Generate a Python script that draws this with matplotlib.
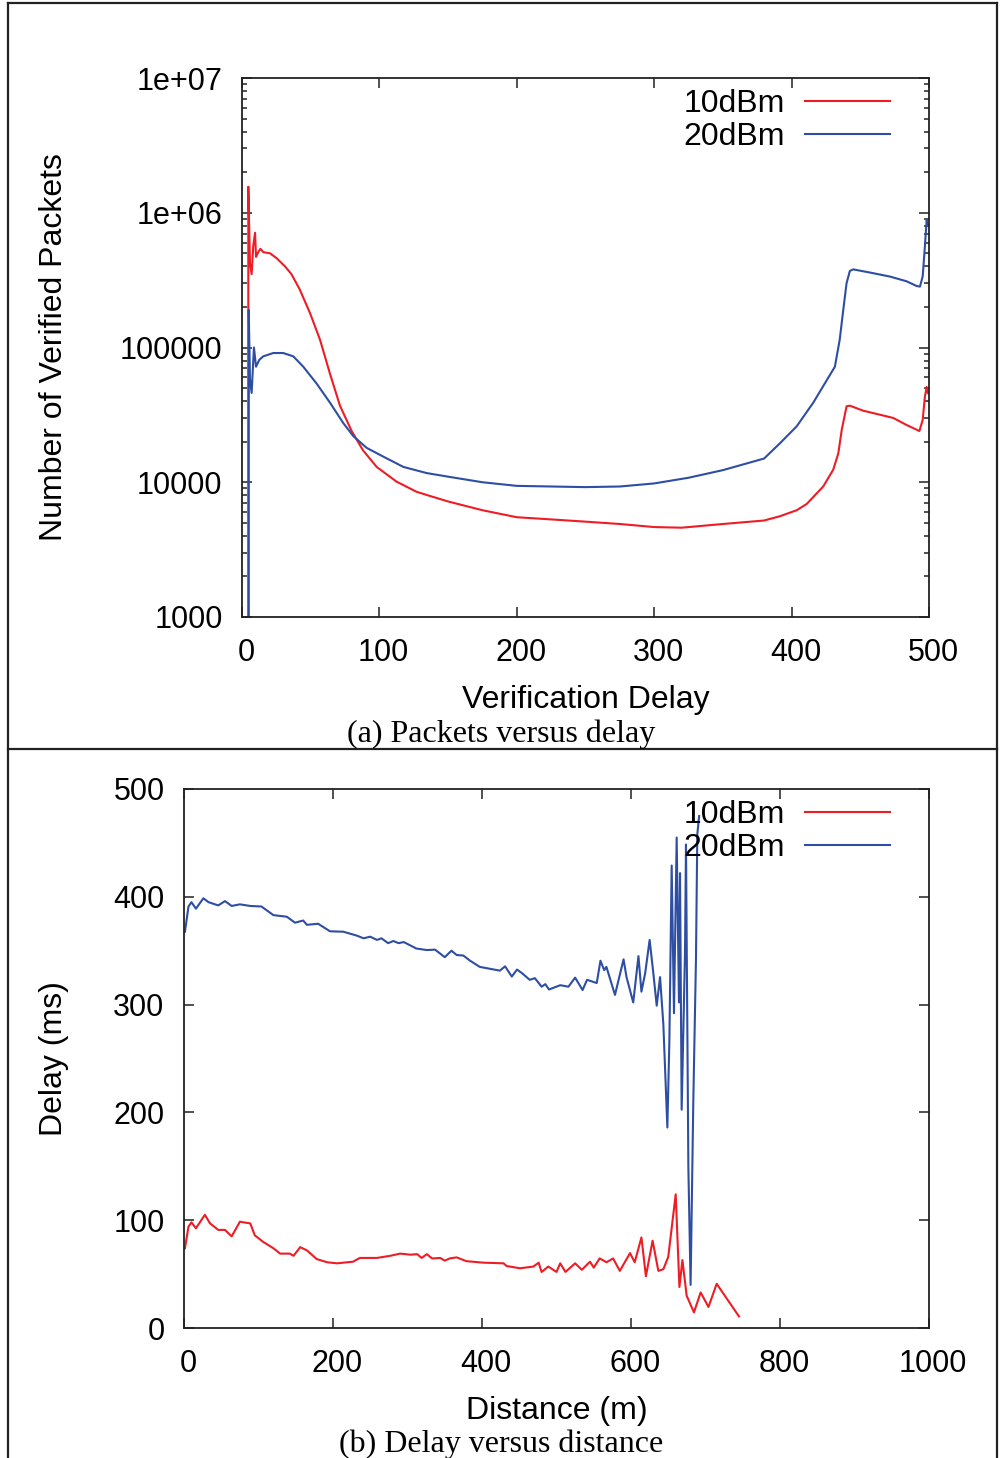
import numpy as np
import matplotlib
matplotlib.use('Agg')
import matplotlib.pyplot as plt
import matplotlib.transforms as mtransforms
from matplotlib.lines import Line2D

plt.rcParams['font.family'] = ['Liberation Sans', 'DejaVu Sans']

RED = '#ee1c25'
BLUE = '#2e4ea3'

# ---- (a) packets versus delay ----
delay_10 = [4.6, 4.6, 5.8, 7.0, 8.2, 9.5, 10.2, 11.8, 13.4, 15.5, 20.4, 25.2, 31.3, 36, 42,
            49.5, 56.8, 64, 71.3, 79.8, 88, 98, 112.5, 127, 137, 150, 175, 200, 225, 250,
            275, 300, 320, 350, 380, 391.6, 403.7, 411, 423, 430.3, 434, 436.5, 440, 442.4,
            452, 464.3, 474, 483.7, 493, 495.4, 497, 498.3, 499.2]
pkts_10 = [1, 1.56e6, 4.2e5, 3.5e5, 5.7e5, 7.1e5, 4.7e5, 5.1e5, 5.4e5, 5.1e5, 5.0e5, 4.6e5, 4.0e5,
           3.5e5, 2.7e5, 1.8e5, 1.14e5, 6.4e4, 3.7e4, 2.4e4, 1.73e4, 1.3e4, 1.01e4, 8.5e3,
           7.9e3, 7.2e3, 6.2e3, 5.5e3, 5.3e3, 5.1e3, 4.9e3, 4.65e3, 4.6e3, 4.9e3, 5.2e3, 5.6e3,
           6.2e3, 6.9e3, 9.3e3, 1.24e4, 1.64e4, 2.45e4, 3.66e4, 3.7e4, 3.4e4, 3.17e4, 3.0e4,
           2.66e4, 2.4e4, 2.9e4, 4.3e4, 5.1e4, 4.6e4]

delay_20 = [4.9, 4.9, 5.8, 7.0, 8.7, 10.2, 12.6, 15.5, 22.8, 30, 37.3, 44.6, 54.3, 64, 73.7, 81,
            90.7, 102.8, 117.4, 134.4, 150, 175, 200, 225, 250, 275, 300, 325, 350, 380,
            391.6, 403.7, 415.8, 425.5, 431.5, 435, 437.6, 440, 442.4, 444.8, 457, 471.6,
            483.7, 491, 493.4, 495.4, 497, 498.3, 499.2]
pkts_20 = [1, 1.9e5, 5.8e4, 4.6e4, 1.0e5, 7.2e4, 8.1e4, 8.6e4, 9.1e4, 9.1e4, 8.6e4, 7.2e4, 5.4e4,
           3.9e4, 2.75e4, 2.2e4, 1.8e4, 1.55e4, 1.3e4, 1.17e4, 1.1e4, 1.0e4, 9.4e3, 9.3e3,
           9.2e3, 9.3e3, 9.8e3, 1.08e4, 1.23e4, 1.5e4, 1.95e4, 2.6e4, 3.9e4, 5.7e4, 7.2e4,
           1.14e5, 1.9e5, 3.0e5, 3.7e5, 3.8e5, 3.6e5, 3.36e5, 3.1e5, 2.86e5, 2.83e5, 3.36e5,
           5.6e5, 8.8e5, 8.0e5]

# ---- (b) delay versus distance ----
dist_10 = [1.3, 6, 10, 16, 28, 35, 46, 55, 64, 75, 89, 95, 106, 120, 129, 142, 147, 156, 165,
           178, 192, 205, 227, 236, 259, 277, 290, 304, 313, 319, 326, 333, 344, 350, 357,
           366, 379, 402, 429, 433, 451, 469, 476, 480, 489, 500, 505, 512, 525, 534, 545,
           550, 558, 567, 576, 585, 598.7, 605, 614, 620, 629, 636.7, 643.4, 650, 660, 665,
           669, 674.7, 684.5, 693.5, 704, 715, 745]
ms_10 = [74, 94, 98, 92.5, 105, 97, 91, 91, 85, 98.6, 97, 86, 80, 74, 69, 69, 67, 75, 72, 64,
         61, 60, 61.5, 65, 65, 67, 69, 68, 68.5, 65, 68.5, 64.5, 65, 62.5, 64.6, 65.5, 62,
         60.6, 60, 57.5, 55.4, 57, 60.6, 52, 57, 52, 60, 52, 60, 54, 61.5, 56, 64.6, 61, 64.5,
         53, 69.5, 61, 84, 48, 81, 53, 54.5, 66, 124, 38, 63, 30, 14.5, 33, 19.5, 41, 10.7]

dist_20 = [1.3, 6, 10, 16, 26, 33, 46, 55, 64, 75, 89, 104, 120, 138, 149, 160, 165, 180, 196,
           214, 232, 241, 250, 259, 265, 274, 281, 288, 295, 312, 326, 337, 350, 359, 366,
           375, 384, 397, 424, 431, 440, 447, 454, 464, 471, 480, 485, 490, 505, 516, 525,
           535, 541, 554, 559, 564, 567, 578.5, 590, 594, 603, 610, 614, 619, 625, 630, 634.5,
           639, 643.4, 648.8, 651.5, 654.6, 657.7, 661.3, 664.4, 665.8, 668, 672.5, 673.8,
           677, 680, 683.6, 687.2, 689, 691.5]
ms_20 = [367.6, 391, 395, 389, 398.6, 395, 392, 396, 391.5, 393, 391.5, 391, 383, 381.5, 376,
         378, 374, 375, 368, 367.6, 364, 361.5, 363, 360, 361.5, 357, 359, 357, 358, 352,
         350.6, 351, 344, 350, 346, 345.5, 340.7, 335, 331.5, 335.5, 326, 332.5, 329, 323,
         324.5, 316.6, 319, 314, 318, 316.6, 325, 313.5, 323, 320, 340.7, 332, 335, 309, 342,
         325.5, 302, 345, 312, 329, 360, 329, 299, 325.5, 282, 186, 266, 429, 292, 455, 302,
         422, 202.5, 349, 448.5, 149, 40, 209, 342, 458, 475]

labels = ['10dBm', '20dBm']
FS = 22      # tick labels
LFS = 23     # axis labels / legend

fig = plt.figure(figsize=(10, 14.58), dpi=100)
shift = mtransforms.ScaledTranslation(4 / 100, 0, fig.dpi_scale_trans)


def style_axes(ax):
    for s in ax.spines.values():
        s.set_linewidth(1.3)
        s.set_color('#222222')
    ax.tick_params(which='both', direction='in', top=True, right=True,
                   labelsize=FS, pad=14, width=1.1, color='#222222')
    ax.tick_params(axis='x', pad=15)
    ax.tick_params(which='major', length=7.5)
    ax.tick_params(which='minor', length=3.8)
    # gnuplot puts x tick labels a few pixels right of the tick
    for lab in ax.get_xticklabels():
        lab.set_transform(lab.get_transform() + shift)


def add_legend(ax, xr):
    ax.legend(loc='upper right', bbox_to_anchor=(xr, 0.979), markerfirst=False,
              frameon=False, fontsize=LFS, handlelength=2.66, handletextpad=0.62,
              labelspacing=0.08, borderpad=0, borderaxespad=0)


# top panel
ax1 = fig.add_axes([0.242, 1 - 617 / 1458, 0.687, 539 / 1458])
ax1.plot(delay_10, pkts_10, color=RED, lw=1.5, label=labels[0])
ax1.plot(delay_20, pkts_20, color=BLUE, lw=1.5, label=labels[1])
ax1.set_yscale('log')
ax1.set_xlim(0, 500)
ax1.set_ylim(1e3, 1e7)
ax1.set_xticks([0, 100, 200, 300, 400, 500])
ax1.set_yticks([1e3, 1e4, 1e5, 1e6, 1e7], ['1000', '10000', '100000', '1e+06', '1e+07'])
ax1.yaxis.set_minor_locator(matplotlib.ticker.LogLocator(base=10, subs=np.arange(2, 10)))
ax1.yaxis.set_minor_formatter(matplotlib.ticker.NullFormatter())
style_axes(ax1)
ax1.set_xlabel('Verification Delay', fontsize=LFS, va='center')
ax1.xaxis.set_label_coords(0.5, -0.154)
ax1.set_ylabel('Number of Verified Packets', fontsize=LFS, va='center')
ax1.yaxis.set_label_coords(-0.2736, 0.5)
add_legend(ax1, 0.943)

# bottom panel
ax2 = fig.add_axes([0.184, 1 - 1328 / 1458, 0.745, 539 / 1458])
ax2.plot(dist_10, ms_10, color=RED, lw=1.5, label=labels[0])
ax2.plot(dist_20, ms_20, color=BLUE, lw=1.5, label=labels[1])
ax2.set_xlim(0, 1000)
ax2.set_ylim(0, 500)
ax2.set_xticks([0, 200, 400, 600, 800, 1000])
ax2.set_yticks([0, 100, 200, 300, 400, 500])
style_axes(ax2)
ax2.set_xlabel('Distance (m)', fontsize=LFS, va='center')
ax2.xaxis.set_label_coords(0.5, -0.154)
ax2.set_ylabel('Delay (ms)', fontsize=LFS, va='center')
ax2.yaxis.set_label_coords(-0.174, 0.5)
add_legend(ax2, 0.9477)

# captions
fig.text(0.501, 1 - 734 / 1458, '(a) Packets versus delay', family='Liberation Serif',
         fontsize=23, ha='center', va='center')
fig.text(0.501, 1 - 1444 / 1458, '(b) Delay versus distance', family='Liberation Serif',
         fontsize=23, ha='center', va='center')

# outer frame
fl, fr = 0.008, 0.9965
ft, fm = 1 - 2.5 / 1458, 1 - 748.5 / 1458
for xs, ys in [([fl, fl], [0, ft]), ([fr, fr], [0, ft]), ([fl, fr], [ft, ft]), ([fl, fr], [fm, fm])]:
    fig.add_artist(Line2D(xs, ys, transform=fig.transFigure, color='#222222', lw=1.6))

fig.savefig('out.png', dpi=100)
